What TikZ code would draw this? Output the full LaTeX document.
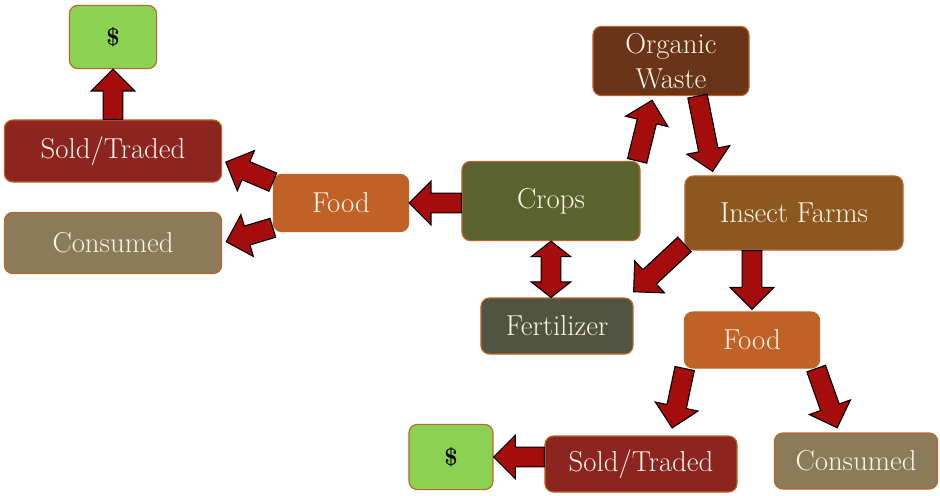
\documentclass[tikz,border=0pt]{standalone}
\usetikzlibrary{calc}

\definecolor{arrowred}{RGB}{165,12,12}
\definecolor{boxedge}{RGB}{190,100,40}
\definecolor{boxtext}{RGB}{252,246,232}
\definecolor{moneygreen}{RGB}{140,210,82}
\definecolor{soldred}{RGB}{140,36,32}
\definecolor{eatkhaki}{RGB}{139,123,88}
\definecolor{foodorange}{RGB}{192,98,40}
\definecolor{cropolive}{RGB}{90,99,46}
\definecolor{wastebrown}{RGB}{106,52,24}
\definecolor{insectbrown}{RGB}{140,88,32}
\definecolor{fertgray}{RGB}{80,84,64}

\tikzset{
    tipgap/.store in=\tipgap, tipgap=0pt,
    box/.style={draw=boxedge, line width=0.8pt, rounded corners=6pt, inner sep=2pt,
        text=boxtext, align=center, font=\fontsize{20.5}{25}\selectfont},
    money/.style={box, fill=moneygreen, text=black, font=\fontsize{17}{20}\selectfont\bfseries},
    blockarrow/.style={draw=black, fill=arrowred, line width=0.8pt, line join=miter,
        to path={let \p1=(\tikztostart), \p2=(\tikztotarget),
            \n1={atan2(\y2-\y1,\x2-\x1)},
            \n2={veclen(\x2-\x1,\y2-\y1)-\tipgap},
            \n3={\n2-15.5} in
            ($(\p1)+(\n1-90:7pt)$)
            -- ($(\p1)+(\n1:{\n3*1pt})+(\n1-90:7pt)$)
            -- ($(\p1)+(\n1:{\n3*1pt})+(\n1-90:15.5pt)$)
            -- ($(\p1)+(\n1:{\n2*1pt})$)
            -- ($(\p1)+(\n1:{\n3*1pt})+(\n1+90:15.5pt)$)
            -- ($(\p1)+(\n1:{\n3*1pt})+(\n1+90:7pt)$)
            -- ($(\p1)+(\n1+90:7pt)$) -- cycle}},
    dblarrow/.style={draw=black, fill=arrowred, line width=0.8pt, line join=miter,
        to path={let \p1=(\tikztostart), \p2=(\tikztotarget),
            \n1={atan2(\y2-\y1,\x2-\x1)},
            \n2={veclen(\x2-\x1,\y2-\y1)},
            \n3={\n2-11} in
            (\p1)
            -- ($(\p1)+(\n1:11pt)+(\n1-90:14pt)$)
            -- ($(\p1)+(\n1:11pt)+(\n1-90:7pt)$)
            -- ($(\p1)+(\n1:{\n3*1pt})+(\n1-90:7pt)$)
            -- ($(\p1)+(\n1:{\n3*1pt})+(\n1-90:14pt)$)
            -- (\p2)
            -- ($(\p1)+(\n1:{\n3*1pt})+(\n1+90:14pt)$)
            -- ($(\p1)+(\n1:{\n3*1pt})+(\n1+90:7pt)$)
            -- ($(\p1)+(\n1:11pt)+(\n1+90:7pt)$)
            -- ($(\p1)+(\n1:11pt)+(\n1+90:14pt)$) -- cycle}}
}

\begin{document}
\begin{tikzpicture}[x=0.025cm, y=-0.025cm]
        % Canvas
        \fill[white] (0,0) rectangle (940,495);
        \useasboundingbox (0,0) rectangle (940,495);
        % Boxes, left branch
        \node[money, minimum width=2.18cm, minimum height=1.58cm] (dollar1) at (113,37) {\$};
        \node[box, fill=soldred, minimum width=5.43cm, minimum height=1.55cm] (sold1) at (113,151) {Sold/Traded};
        \node[box, fill=eatkhaki, minimum width=5.43cm, minimum height=1.53cm] (cons1) at (113,243) {Consumed};
        \node[box, fill=foodorange, minimum width=3.38cm, minimum height=1.43cm] (food1) at (341,203) {Food};
        % Boxes, cycle
        \node[box, fill=cropolive, minimum width=4.45cm, minimum height=1.98cm] (crops) at (551,201) {Crops};
        \node[box, fill=wastebrown, minimum width=3.9cm, minimum height=1.73cm] (waste) at (671,61) {Organic\\Waste};
        \node[box, fill=insectbrown, minimum width=5.45cm, minimum height=1.85cm] (insect) at (794,213) {Insect Farms};
        \node[box, fill=fertgray, minimum width=3.8cm, minimum height=1.4cm] (fert) at (557,326) {Fertilizer};
        % Boxes, right branch
        \node[box, fill=foodorange, minimum width=3.38cm, minimum height=1.4cm] (food2) at (752,340) {Food};
        \node[money, minimum width=2.1cm, minimum height=1.63cm] (dollar2) at (451,457) {\$};
        \node[box, fill=soldred, minimum width=4.8cm, minimum height=1.4cm] (sold2) at (641,464) {Sold/Traded};
        \node[box, fill=eatkhaki, minimum width=4.08cm, minimum height=1.4cm] (cons2) at (856,461) {Consumed};
        % Arrows
        \draw[blockarrow] (sold1.north) to (dollar1.south);
        \draw[blockarrow, tipgap=2.8pt] (food1.163) to (sold1.-5);
        \draw[blockarrow, tipgap=3pt] (food1.200) to (cons1.east);
        \draw[blockarrow] (crops.west |- food1.east) to (food1.east);
        \draw[blockarrow, tipgap=3pt] (crops.25) to (waste.243);
        \draw[blockarrow, tipgap=3pt] (waste.-53) to (insect.155);
        \draw[dblarrow] (crops.south) to (crops.south |- fert.north);
        \draw[blockarrow] (insect.196) to ([yshift=4pt]fert.north east);
        \draw[blockarrow, tipgap=1.5pt] (insect.south -| food2.north) to (food2.north);
        \draw[blockarrow, tipgap=5.5pt] (food2.203) to (sold2.44);
        \draw[blockarrow, tipgap=3.5pt] (food2.-24) to (cons2.121);
        \draw[blockarrow] (dollar2 -| sold2.west) to (dollar2.east);
    \end{tikzpicture}
\end{document}
